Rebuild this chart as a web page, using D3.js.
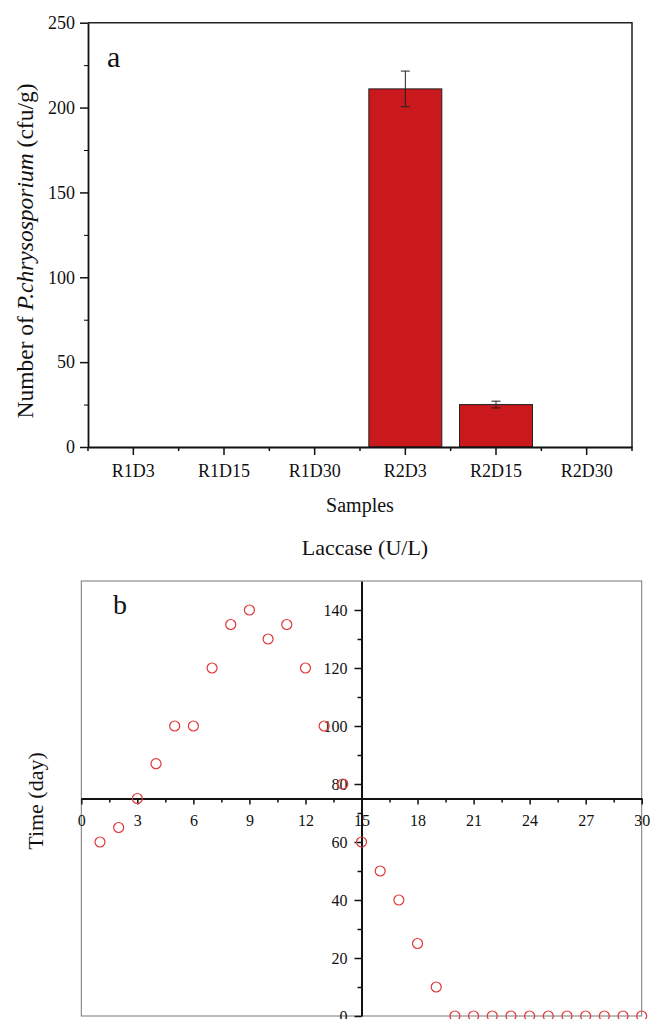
<!DOCTYPE html>
<html lang="en">
<head>
    <meta charset="UTF-8">
    <title>P. chrysosporium and laccase</title>
    <script src="https://d3js.org/d3.v7.min.js"></script>
    <style>
        body { margin: 0; background: #fff; }
        text { font-family: "Liberation Serif", "Times New Roman", serif; fill: #111; }
    </style>
</head>
<body>
    <div id="chart"></div>
    <script>
        // panel a: colony counts
        var samples = ["R1D3", "R1D15", "R1D30", "R2D3", "R2D15", "R2D30"];
        var counts = [0, 0, 0, 211, 25, 0];
        var countErr = [0, 0, 0, 10.5, 2, 0];
        var countTicks = [0, 50, 100, 150, 200, 250];
        var countMinor = [25, 75, 125, 175, 225];

        // panel b: laccase per day
        var days = [1, 2, 3, 4, 5, 6, 7, 8, 9, 10, 11, 12, 13, 14, 15,
                    16, 17, 18, 19, 20, 21, 22, 23, 24, 25, 26, 27, 28, 29, 30];
        var laccase = [60, 65, 75, 87, 100, 100, 120, 135, 140, 130, 135, 120, 100, 80, 60,
                       50, 40, 25, 10, 0, 0, 0, 0, 0, 0, 0, 0, 0, 0, 0];
        var dayTicks = [0, 3, 6, 9, 12, 15, 18, 21, 24, 27, 30];
        var dayMinor = [1.5, 4.5, 7.5, 10.5, 13.5, 16.5, 19.5, 22.5, 25.5, 28.5];
        var lacTicks = [0, 20, 40, 60, 80, 100, 120, 140];
        var lacMinor = [10, 30, 50, 70, 90, 110, 130];

        var svg = d3.select("#chart").append("svg")
            .attr("width", 652)
            .attr("height", 1019);

        // ---------- panel a ----------
        var x = d3.scaleBand().domain(samples).range([88, 632])
            .paddingInner(0.195).paddingOuter(0.0975);
        var y = d3.scaleLinear().domain([0, 250]).range([447, 22.7]);

        var a = svg.append("g");

        // frame top + right
        a.append("path")
            .attr("d", "M" + x.range()[0] + "," + y(250) + "H" + x.range()[1] + "V" + y(0))
            .attr("fill", "none").attr("stroke", "#222").attr("stroke-width", 1.5);

        a.selectAll("rect.bar")
            .data(counts)
            .enter().append("rect")
            .attr("class", "bar")
            .attr("x", function(d, i) { return x(samples[i]); })
            .attr("width", x.bandwidth())
            .attr("y", function(d) { return y(d); })
            .attr("height", function(d) { return y(0) - y(d); })
            .attr("fill", "#c9191c")
            .attr("stroke", "#222")
            .attr("stroke-width", 1)
            .style("display", function(d) { return d > 0 ? null : "none"; });

        // error bars
        var eb = a.selectAll("g.err")
            .data(counts.map(function(d, i) { return {s: samples[i], v: d, e: countErr[i]}; })
                .filter(function(d) { return d.e > 0; }))
            .enter().append("g").attr("class", "err")
            .attr("stroke", "#222").attr("stroke-width", 1);
        eb.append("line")
            .attr("x1", function(d) { return x(d.s) + x.bandwidth() / 2; })
            .attr("x2", function(d) { return x(d.s) + x.bandwidth() / 2; })
            .attr("y1", function(d) { return y(d.v + d.e); })
            .attr("y2", function(d) { return y(d.v - d.e); });
        eb.selectAll("line.cap")
            .data(function(d) { return [{s: d.s, v: d.v + d.e}, {s: d.s, v: d.v - d.e}]; })
            .enter().append("line").attr("class", "cap")
            .attr("x1", function(d) { return x(d.s) + x.bandwidth() / 2 - 4.5; })
            .attr("x2", function(d) { return x(d.s) + x.bandwidth() / 2 + 4.5; })
            .attr("y1", function(d) { return y(d.v); })
            .attr("y2", function(d) { return y(d.v); });

        // axes
        var yAx = a.append("g").attr("transform", "translate(" + x.range()[0] + ",0)")
            .call(d3.axisLeft(y).tickValues(countTicks).tickSize(8).tickSizeOuter(0).tickPadding(5));
        a.append("g").attr("transform", "translate(" + x.range()[0] + ",0)")
            .call(d3.axisLeft(y).tickValues(countMinor).tickSize(4).tickFormat(""))
            .select(".domain").remove();

        var xAx = a.append("g").attr("transform", "translate(0," + y(0) + ")")
            .call(d3.axisBottom(x).tickSize(8).tickSizeOuter(0).tickPadding(9));
        var bounds = d3.range(samples.length + 1).map(function(i) { return x.range()[0] + i * x.step(); });
        a.append("g").selectAll("line")
            .data(bounds).enter().append("line")
            .attr("x1", function(d) { return d; }).attr("x2", function(d) { return d; })
            .attr("y1", y(0)).attr("y2", y(0) + 4)
            .attr("stroke", "#111").attr("stroke-width", 1.5);

        [yAx, xAx].forEach(function(g) {
            g.select(".domain").attr("stroke", "#111").attr("stroke-width", 1.8);
            g.selectAll(".tick line").attr("stroke", "#111").attr("stroke-width", 1.5);
            g.selectAll(".tick text").style("font-size", "18px").style("font-family", "Liberation Serif").attr("fill", "#111");
        });

        a.append("text").attr("x", 107).attr("y", 67)
            .style("font-size", "30px").text("a");

        var yl = a.append("text")
            .attr("transform", "translate(33,251) rotate(-90)")
            .attr("text-anchor", "middle")
            .style("font-size", "23.5px");
        yl.append("tspan").text("Number of ");
        yl.append("tspan").style("font-style", "italic").text("P.chrysosporium");
        yl.append("tspan").text(" (cfu/g)");

        a.append("text").attr("x", 360).attr("y", 512)
            .attr("text-anchor", "middle").style("font-size", "20px").text("Samples");

        // ---------- panel b ----------
        var x2 = d3.scaleLinear().domain([0, 30]).range([81.3, 641.7]);
        var y2 = d3.scaleLinear().domain([0, 150]).range([1016, 581]);

        var b = svg.append("g");

        b.append("rect")
            .attr("x", x2(0)).attr("y", y2(150))
            .attr("width", x2(30) - x2(0)).attr("height", y2(0) - y2(150))
            .attr("fill", "none").attr("stroke", "#777").attr("stroke-width", 1);

        var xAx2 = b.append("g").attr("transform", "translate(0," + y2(75) + ")")
            .call(d3.axisBottom(x2).tickValues(dayTicks).tickSize(6).tickSizeOuter(0).tickPadding(10));
        b.append("g").attr("transform", "translate(0," + y2(75) + ")")
            .call(d3.axisBottom(x2).tickValues(dayMinor).tickSize(4).tickFormat(""))
            .select(".domain").remove();

        var yAx2 = b.append("g").attr("transform", "translate(" + x2(15) + ",0)")
            .call(d3.axisLeft(y2).tickValues(lacTicks).tickSize(7).tickSizeOuter(0).tickPadding(7));
        b.append("g").attr("transform", "translate(" + x2(15) + ",0)")
            .call(d3.axisLeft(y2).tickValues(lacMinor).tickSize(4).tickFormat(""))
            .select(".domain").remove();

        [xAx2, yAx2].forEach(function(g) {
            g.select(".domain").attr("stroke", "#111").attr("stroke-width", 2);
            g.selectAll(".tick line").attr("stroke", "#111").attr("stroke-width", 1.5);
            g.selectAll(".tick text").style("font-size", "16px").style("font-family", "Liberation Serif").attr("fill", "#111");
        });
        b.selectAll("g.tick line").attr("stroke", "#111").attr("stroke-width", 1.5);

        b.selectAll("circle")
            .data(laccase)
            .enter().append("circle")
            .attr("cx", function(d, i) { return x2(days[i]); })
            .attr("cy", function(d) { return y2(d); })
            .attr("r", 5)
            .attr("fill", "none")
            .attr("stroke", "#e0373a")
            .attr("stroke-width", 1.2);

        b.append("text").attr("x", 113).attr("y", 614)
            .style("font-size", "28px").text("b");

        b.append("text").attr("x", 365).attr("y", 555)
            .attr("text-anchor", "middle").style("font-size", "22px").text("Laccase (U/L)");

        b.append("text")
            .attr("transform", "translate(43,801) rotate(-90)")
            .attr("text-anchor", "middle").style("font-size", "22px").text("Time (day)");
    </script>
</body>
</html>
